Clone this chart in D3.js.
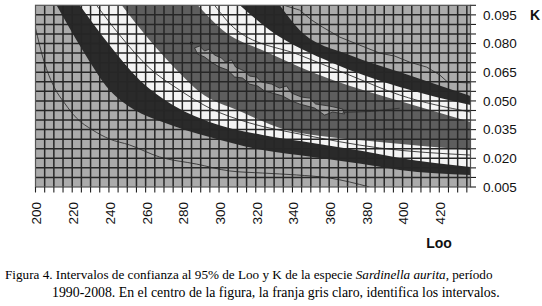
<!DOCTYPE html>
<html>
<head>
<meta charset="utf-8">
<script src="https://cdn.jsdelivr.net/npm/d3@7"></script>
<style>
  html, body { margin: 0; padding: 0; background: #ffffff; }
  svg { display: block; }
  text.cap { white-space: pre; }
</style>
</head>
<body>
<svg id="chart" width="542" height="306"></svg>
<script>
// ---------------- DATA ----------------
const looDomain = [200, 437];
const kDomain = [0.005, 0.1];
const xTickLabels = [200, 220, 240, 260, 280, 300, 320, 340, 360, 380, 400, 420];
const yTickLabels = [0.005, 0.020, 0.035, 0.050, 0.065, 0.080, 0.095];

// Contour boundaries [Loo, K], from lower-left to upper-right
const edgeGrayBlackLow = [[211.4,0.1001],[225.6,0.0766],[240.3,0.0557],[254,0.0453],[269.2,0.0390],[294.8,0.0311],[323.7,0.0243],[351,0.0207],[378.2,0.0170],[398.4,0.0139],[437,0.0113]];
const edgeBlackWhiteLow = [[224,0.1001],[240.3,0.0792],[256.7,0.0609],[273,0.0489],[294.8,0.0390],[323.7,0.0322],[351,0.0280],[378.2,0.0238],[398.4,0.0202],[437,0.0155]];
const edgeWhiteDarkLow = [[246.9,0.1001],[262.1,0.0818],[278.5,0.0646],[289.4,0.0547],[311.2,0.0447],[336.8,0.0348],[360.2,0.0311],[387.5,0.0285],[437,0.0243]];
const edgeDarkWhiteUp = [[288.3,0.1001],[301.9,0.0871],[325.9,0.0756],[361.9,0.0609],[398.4,0.0500],[437,0.0390]];
const edgeWhiteBlackUp = [[311.2,0.1001],[327.5,0.0871],[361.9,0.0698],[398.4,0.0573],[437,0.0479]];
const edgeBlackGrayUp = [[333,0.1001],[343.9,0.0871],[371.1,0.0740],[398.4,0.0651],[437,0.0526]];

// thin contour lines
const lineLowGray = [[200,0.0881],[204.4,0.0714],[210.4,0.0568],[215.8,0.0489],[222.3,0.0411],[231.1,0.0348],[240.3,0.0301],[251.2,0.0270],[267.6,0.0207],[287.7,0.0170],[305.7,0.0134],[323.7,0.0123],[342.2,0.0113],[360.2,0.0097],[382,0.005]];
const lineLowWhite = [[233.2,0.1001],[245.8,0.0845],[262.1,0.0672],[278.5,0.0557],[294.8,0.0463],[316.6,0.0385],[343.9,0.0327],[387.5,0.0254],[437,0.0217]];
const lineUpWhite = [[297.5,0.1001],[309.5,0.0871],[343.9,0.0740],[371.1,0.0635],[398.4,0.0531],[437,0.0442]];
const lineUpGray = [[335.1,0.1001],[343.9,0.0975],[350.4,0.0923],[356.4,0.0886],[365.7,0.0834],[376.6,0.0792],[387.5,0.0750],[395.6,0.0735],[403.8,0.0703],[413.1,0.0677],[420.2,0.0636],[424.5,0.0599],[437,0.0594]];
const lineDarkBit = [[389.6,0.0353],[404.9,0.0353]];
const lineCiTail = [[367.3,0.0440],[383,0.0445],[398.4,0.0462]];

// central light-gray confidence strip (upper edge then lower edge)
const ciUpper = [[286.7,0.0777],[289.4,0.0787],[292.1,0.0761],[294.8,0.0771],[297.5,0.0740],[301.4,0.0724],[303.5,0.0703],[306.8,0.0714],[309.0,0.0677],[313.9,0.0656],[316.6,0.0630],[320.4,0.0625],[323.2,0.0599],[328.6,0.0588],[333.0,0.0567],[336.8,0.0578],[339.5,0.0541],[345.0,0.0520],[349.3,0.0515],[352.6,0.0484],[360.2,0.0473],[367.3,0.0458]];
const ciLower = [[368.4,0.0432],[361.9,0.0442],[357.5,0.0426],[352.0,0.0463],[343.9,0.0484],[339.5,0.0500],[334.6,0.0526],[329.2,0.0541],[324.8,0.0552],[321.0,0.0578],[316.6,0.0588],[312.8,0.0620],[308.5,0.0625],[304.6,0.0662],[300.3,0.0677],[296.5,0.0698],[292.1,0.0730],[288.3,0.0745]];
const darkSpot = [[285,0.0803]];

// caption parts
const captionLine1 = [
  ["Figura 4. Intervalos de confianza al 95% de Loo y K de la especie ", "normal"],
  ["Sardinella aurita", "italic"],
  [", período", "normal"]
];
const captionLine2 = "1990-2008. En el centro de la figura, la franja gris claro, identifica los intervalos.";

// ---------------- DRAWING ----------------
const svg = d3.select("#chart");
const x = d3.scaleLinear().domain(looDomain).range([35.5, 470.5]);
const y = d3.scaleLinear().domain(kDomain).range([187, 5.3]);
const x0 = x.range()[0], x1 = x.range()[1], yb = y.range()[0], yt = y.range()[1];

const LIGHT = "#ababab", BLACK = "#2a2a2a", WHITE = "#f4f4f4", DARK = "#5e5e5e";

svg.append("defs").append("clipPath").attr("id", "plotclip")
  .append("rect").attr("x", x0).attr("y", yt).attr("width", x1 - x0).attr("height", yb - yt);

const plot = svg.append("g").attr("clip-path", "url(#plotclip)");
plot.append("rect").attr("x", x0).attr("y", yt).attr("width", x1 - x0).attr("height", yb - yt).attr("fill", LIGHT);

const edgeLine = d3.line().x(d => x(d[0])).y(d => y(d[1])).curve(d3.curveMonotoneX);
const bands = [
  [edgeGrayBlackLow, BLACK],
  [edgeBlackWhiteLow, WHITE],
  [edgeWhiteDarkLow, DARK],
  [edgeDarkWhiteUp, WHITE],
  [edgeWhiteBlackUp, BLACK],
  [edgeBlackGrayUp, LIGHT]
];
bands.forEach(([pts, fill]) => {
  const first = pts[0], last = pts[pts.length - 1];
  const d = edgeLine(pts) +
    `L${x1 + 10},${y(last[1])}L${x1 + 10},${yt - 10}L${x(first[0])},${yt - 10}Z`;
  plot.append("path").attr("d", d).attr("fill", fill);
});

// central CI strip
const poly = d3.line().x(d => x(d[0])).y(d => y(d[1])).curve(d3.curveLinearClosed);
plot.append("path").attr("d", poly(ciUpper.concat(ciLower)))
  .attr("fill", "#a3a3a3").attr("stroke", "#262626").attr("stroke-width", 0.8);

// thin lines
const thin = d3.line().x(d => x(d[0])).y(d => y(d[1])).curve(d3.curveMonotoneX);
const thinLin = d3.line().x(d => x(d[0])).y(d => y(d[1]));
[lineLowGray, lineLowWhite, lineUpWhite].forEach(pts => {
  plot.append("path").attr("d", thin(pts)).attr("fill", "none")
    .attr("stroke", "#333").attr("stroke-width", 0.9);
});
[lineUpGray, lineDarkBit, lineCiTail].forEach(pts => {
  plot.append("path").attr("d", thinLin(pts)).attr("fill", "none")
    .attr("stroke", "#333").attr("stroke-width", 0.9);
});
plot.selectAll("circle.spot").data(darkSpot).enter().append("circle")
  .attr("cx", d => x(d[0])).attr("cy", d => y(d[1])).attr("r", 1.6).attr("fill", "#111");

// grid
const gx = d3.range(205, 437, 5);
const gy = d3.range(2, 20).map(i => i * 0.005);
plot.selectAll("line.gx").data(gx).enter().append("line")
  .attr("x1", d => x(d)).attr("x2", d => x(d)).attr("y1", yt).attr("y2", yb)
  .attr("stroke", "#262626").attr("stroke-width", 1.5);
plot.selectAll("line.gy").data(gy).enter().append("line")
  .attr("y1", d => y(d)).attr("y2", d => y(d)).attr("x1", x0).attr("x2", x1)
  .attr("stroke", "#262626").attr("stroke-width", 1.5);

// border
svg.append("rect").attr("x", x0).attr("y", yt).attr("width", x1 - x0).attr("height", yb - yt)
  .attr("fill", "none").attr("stroke", "#555").attr("stroke-width", 1.2);

// x ticks
const xt = d3.range(200, 437, 5);
svg.selectAll("line.xt").data(xt).enter().append("line")
  .attr("x1", d => x(d)).attr("x2", d => x(d)).attr("y1", yb).attr("y2", yb + 5.5)
  .attr("stroke", "#222").attr("stroke-width", 1.1);
// y ticks
const yt2 = d3.range(1, 21).map(i => i * 0.005);
svg.selectAll("line.yt").data(yt2).enter().append("line")
  .attr("y1", d => y(d)).attr("y2", d => y(d)).attr("x1", x1).attr("x2", x1 + 5.5)
  .attr("stroke", "#222").attr("stroke-width", 1.1);

const sans = "'Liberation Sans', Arial, sans-serif";
svg.selectAll("text.xl").data(xTickLabels).enter().append("text")
  .attr("transform", d => `translate(${x(d) + 1},202) rotate(-90)`)
  .attr("text-anchor", "end").attr("dy", "0.36em")
  .attr("font-family", sans).attr("font-size", 13.5).attr("fill", "#111")
  .text(d => d);
svg.selectAll("text.yl").data(yTickLabels).enter().append("text")
  .attr("x", 483).attr("y", d => y(d)).attr("dy", "0.36em")
  .attr("font-family", sans).attr("font-size", 13.5).attr("fill", "#111")
  .text(d => d3.format(".3f")(d));
svg.append("text").attr("x", 530).attr("y", y(0.095)).attr("dy", "0.36em")
  .attr("font-family", sans).attr("font-size", 14).attr("font-weight", "bold").attr("fill", "#111")
  .text("K");
svg.append("text").attr("x", 439).attr("y", 248).attr("text-anchor", "middle")
  .attr("font-family", sans).attr("font-size", 14).attr("font-weight", "bold").attr("fill", "#111")
  .text("Loo");

// caption: separate text pieces placed one after another, sized to the reference width
const serif = "'Liberation Serif', 'Times New Roman', serif";
const baseSize = 13.5;
const pieces = captionLine1.map(([t, st]) => svg.append("text").attr("class", "cap")
  .attr("xml:space", "preserve")
  .attr("y", 279).attr("font-family", serif).attr("font-size", baseSize)
  .attr("font-style", st).attr("fill", "#000").text(t));
const natural = pieces.reduce((s, p) => s + p.node().getComputedTextLength(), 0);
const fs1 = Math.min(14.5, baseSize * 488 / natural);
let cx = 5;
pieces.forEach(p => {
  p.attr("font-size", fs1).attr("x", cx);
  cx += p.node().getComputedTextLength();
});
const l2 = svg.append("text").attr("class", "cap").attr("x", 52).attr("y", 297)
  .attr("font-family", serif).attr("font-size", baseSize).attr("fill", "#000").text(captionLine2);
const fs2 = Math.min(14.5, baseSize * 448 / l2.node().getComputedTextLength());
l2.attr("font-size", fs2);
</script>
</body>
</html>
